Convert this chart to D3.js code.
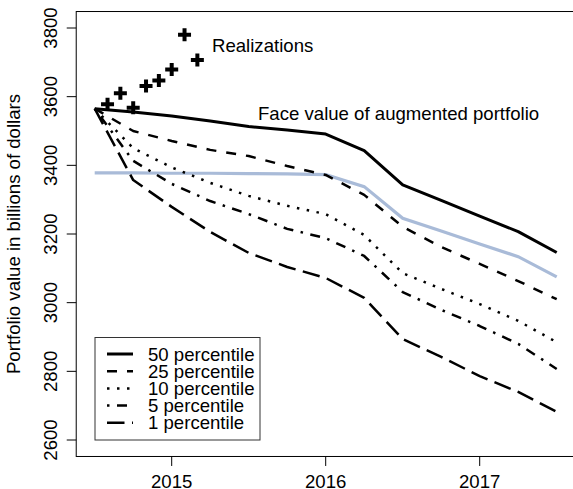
<!DOCTYPE html>
<html>
  <head>
    <meta charset="utf-8" />
    <title>Portfolio value</title>
    <script src="https://d3js.org/d3.v7.min.js"></script>
    <style>
      body { margin: 0; background: white; }
      text { font-family: "Liberation Sans", Arial, sans-serif; font-size: 18.6px; fill: black; }
    </style>
  </head>
  <body>
    <svg width="573" height="489" id="chart"></svg>

    <script>
      // quarterly dates of the projections
      var dates = [2014.5, 2014.75, 2015, 2015.25, 2015.5, 2015.75, 2016,
                   2016.25, 2016.5, 2016.75, 2017, 2017.25, 2017.5];

      var p50 = [3565, 3555, 3544, 3529, 3513, 3503, 3491, 3443, 3343, 3298, 3252, 3207, 3146];
      var p25 = [3565, 3500, 3471, 3445, 3427, 3398, 3372, 3314, 3221, 3162, 3113, 3063, 3010];
      var p10 = [3565, 3450, 3394, 3349, 3311, 3282, 3258, 3197, 3086, 3040, 2996, 2947, 2885];
      var p5  = [3565, 3413, 3346, 3296, 3258, 3215, 3188, 3136, 3031, 2979, 2932, 2880, 2807];
      var p1  = [3565, 3357, 3279, 3206, 3145, 3104, 3072, 3014, 2894, 2842, 2786, 2740, 2682];
      var faceValue = [3378, 3378, 3377, 3377, 3376, 3375, 3373, 3338, 3246, 3209, 3171, 3134, 3075];

      // monthly realizations
      var realDates = [2014 + 7/12, 2014 + 8/12, 2014 + 9/12, 2014 + 10/12,
                       2014 + 11/12, 2015, 2015 + 1/12, 2015 + 2/12];
      var realValues = [3578, 3610, 3568, 3631, 3647, 3679, 3780, 3707];

      var xTicks = [2015, 2016, 2017];
      var yTicks = [2600, 2800, 3000, 3200, 3400, 3600, 3800];

      var legendLabels = ["50 percentile", "25 percentile", "10 percentile", "5 percentile", "1 percentile"];

      var svg = d3.select("#chart");

      var x = d3.scaleLinear().domain([2015, 2017]).range([171.7, 479.7]);
      var y = d3.scaleLinear().domain([2600, 3800]).range([440, 28]);

      // plot box (R style, 4% extension)
      var x0 = x(2014.38), x1 = x(2017.62);
      var y0 = y(2552), y1 = y(3848);

      // line styles
      var styles = [
        { w: 3,   dash: null },
        { w: 2.5, dash: "10,10" },
        { w: 2.5, dash: "2.5,7.5" },
        { w: 2.5, dash: "2.5,7.5,10,7.5" },
        { w: 2.5, dash: "17.5,7.5" }
      ];
      var series = [p50, p25, p10, p5, p1];

      var line = d3.line()
          .x(function(d, i) { return x(dates[i]); })
          .y(function(d) { return y(d); });

      // face value line
      svg.append("path")
          .attr("d", line(faceValue))
          .attr("fill", "none")
          .attr("stroke", "#a9bbd8")
          .attr("stroke-width", 3.2);

      series.forEach(function(s, k) {
        svg.append("path")
            .attr("d", line(s))
            .attr("fill", "none")
            .attr("stroke", "black")
            .attr("stroke-width", styles[k].w)
            .attr("stroke-dasharray", styles[k].dash)
            .attr("stroke-linejoin", "round");
      });

      // realizations as bold plus signs
      var s = 6.5;
      svg.selectAll("path.real")
          .data(realValues)
          .enter().append("path")
          .attr("class", "real")
          .attr("d", function(d, i) {
            var cx = x(realDates[i]), cy = y(d);
            return "M" + (cx - s) + "," + cy + "H" + (cx + s) +
                   "M" + cx + "," + (cy - s) + "V" + (cy + s);
          })
          .attr("stroke", "black")
          .attr("stroke-width", 4);

      // box
      svg.append("rect")
          .attr("x", x0).attr("y", y1)
          .attr("width", x1 - x0).attr("height", y0 - y1)
          .attr("fill", "none").attr("stroke", "black").attr("stroke-width", 1);

      // x axis
      var xAxis = svg.append("g");
      xTicks.forEach(function(t) {
        xAxis.append("line")
            .attr("x1", x(t)).attr("x2", x(t))
            .attr("y1", y0).attr("y2", y0 + 9.5)
            .attr("stroke", "black");
        xAxis.append("text")
            .attr("x", x(t)).attr("y", 488)
            .attr("text-anchor", "middle")
            .text(t);
      });

      // y axis
      var yAxis = svg.append("g");
      yTicks.forEach(function(t) {
        yAxis.append("line")
            .attr("x1", x0 - 9.5).attr("x2", x0)
            .attr("y1", y(t)).attr("y2", y(t))
            .attr("stroke", "black");
        yAxis.append("text")
            .attr("transform", "translate(56.5," + y(t) + ") rotate(-90)")
            .attr("text-anchor", "middle")
            .text(t);
      });

      svg.append("text")
          .attr("transform", "translate(20," + ((y0 + y1) / 2) + ") rotate(-90)")
          .attr("text-anchor", "middle")
          .text("Portfolio value in billions of dollars");

      // annotations
      svg.append("text").attr("x", 212).attr("y", 52).text("Realizations");
      svg.append("text").attr("x", 258).attr("y", 120).text("Face value of augmented portfolio");

      // legend
      var leg = svg.append("g");
      leg.append("rect")
          .attr("x", 95).attr("y", 337.5)
          .attr("width", 165).attr("height", 102.5)
          .attr("fill", "white").attr("stroke", "#333").attr("stroke-width", 1);

      legendLabels.forEach(function(lab, k) {
        var ly = 354 + k * 17.2;
        leg.append("line")
            .attr("x1", 107).attr("x2", 133)
            .attr("y1", ly).attr("y2", ly)
            .attr("stroke", "black")
            .attr("stroke-width", styles[k].w)
            .attr("stroke-dasharray", styles[k].dash);
        leg.append("text")
            .attr("x", 148).attr("y", ly + 6.5)
            .text(lab);
      });
    </script>
  </body>
</html>
